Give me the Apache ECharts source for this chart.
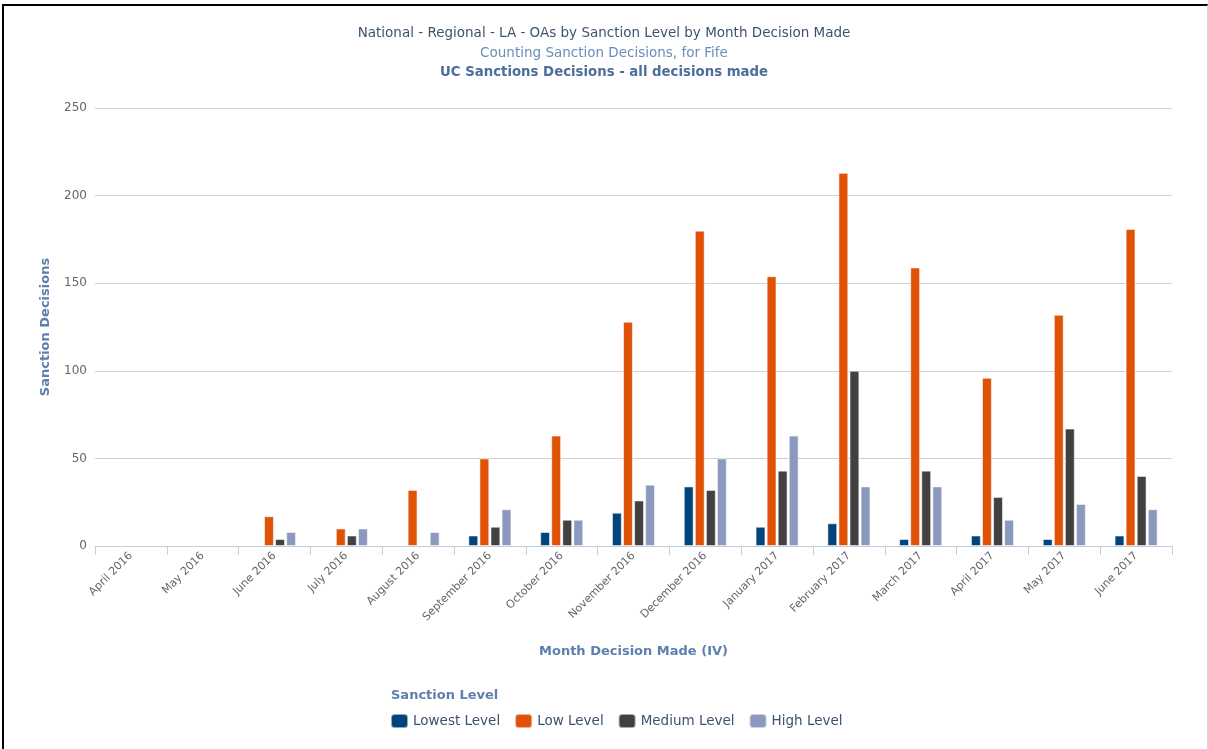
<!DOCTYPE html>
<html>
<head>
<meta charset="utf-8">
<title>Sanction Decisions by Month</title>
<script src="https://cdn.jsdelivr.net/npm/echarts@6/dist/echarts.min.js"></script>
<style>
  html, body { margin: 0; padding: 0; background: #fff; }
  #chart { position: absolute; left: 0; top: 0; width: 1208px; height: 749px; }
  #frame {
    position: absolute; left: 2px; top: 4px; width: 1206px; height: 745px;
    box-sizing: border-box; border-top: 2px solid #000; border-left: 2px solid #000;
    border-right: 1px solid #d8d8d8; pointer-events: none;
  }
</style>
</head>
<body>
<div id="chart"></div>
<div id="frame"></div>
<script>
// Months in which decisions were made
const months = [
  'April 2016', 'May 2016', 'June 2016', 'July 2016', 'August 2016',
  'September 2016', 'October 2016', 'November 2016', 'December 2016',
  'January 2017', 'February 2017', 'March 2017', 'April 2017', 'May 2017', 'June 2017'
];

// Sanction decisions per level (null where no decisions recorded)
const lowestLevel = [null, null, null, null, null, 6, 8, 19, 34, 11, 13, 4, 6, 4, 6];
const lowLevel    = [null, null, 17, 10, 32, 50, 63, 128, 180, 154, 213, 159, 96, 132, 181];
const mediumLevel = [null, null, 4, 6, null, 11, 15, 26, 32, 43, 100, 43, 28, 67, 40];
const highLevel   = [null, null, 8, 10, 8, 21, 15, 35, 50, 63, 34, 34, 15, 24, 21];

const yTicks = [0, 50, 100, 150, 200, 250];

const FONT = 'DejaVu Sans';
const chart = echarts.init(document.getElementById('chart'), null, { renderer: 'canvas' });

function barSeries(name, data, color) {
  return {
    name: name,
    type: 'bar',
    data: data,
    barGap: '12%',
    barCategoryGap: '40%',
    itemStyle: { color: color, borderColor: 'rgba(255,255,255,0.55)', borderWidth: 1 },
    emphasis: { disabled: true }
  };
}

chart.setOption({
  animation: false,
  textStyle: { fontFamily: FONT },
  title: [
    {
      text: 'National - Regional - LA - OAs by Sanction Level by Month Decision Made',
      left: 'center', top: 21,
      textStyle: { fontFamily: FONT, fontSize: 13.5, fontWeight: 'normal', color: '#3e5270' }
    },
    {
      text: 'Counting Sanction Decisions, for Fife',
      left: 'center', top: 41,
      textStyle: { fontFamily: FONT, fontSize: 13.5, fontWeight: 'normal', color: '#6b8cba' }
    },
    {
      text: 'UC Sanctions Decisions - all decisions made',
      left: 'center', top: 61,
      textStyle: { fontFamily: FONT, fontSize: 13.3, fontWeight: 'bold', color: '#4d6d9a' }
    },
    {
      text: 'Sanction Level',
      left: 386, top: 684,
      textStyle: { fontFamily: FONT, fontSize: 13, fontWeight: 'bold', color: '#5d7fae' }
    }
  ],
  legend: {
    left: 385, top: 708,
    itemWidth: 17, itemHeight: 14, itemGap: 14,
    icon: 'roundRect',
    textStyle: { fontFamily: FONT, fontSize: 13.5, color: '#3e5270' },
    data: ['Lowest Level', 'Low Level', 'Medium Level', 'High Level']
  },
  grid: { left: 95, right: 36, top: 108, bottom: 203, containLabel: false },
  xAxis: {
    type: 'category',
    data: months,
    name: 'Month Decision Made (IV)',
    nameLocation: 'middle',
    nameGap: 99,
    nameTextStyle: { fontFamily: FONT, fontSize: 13, fontWeight: 'bold', color: '#5d7fae' },
    axisLine: { lineStyle: { color: '#c0d0e0', width: 1 } },
    axisTick: { show: true, alignWithLabel: false, length: 9, lineStyle: { color: '#c0d0e0' } },
    axisLabel: { rotate: 45, margin: 8, fontFamily: FONT, fontSize: 11, color: '#666' }
  },
  yAxis: {
    type: 'value',
    min: yTicks[0], max: yTicks[yTicks.length - 1], interval: 50,
    name: 'Sanction Decisions',
    nameLocation: 'middle',
    nameGap: 43,
    nameTextStyle: { fontFamily: FONT, fontSize: 13, fontWeight: 'bold', color: '#5d7fae' },
    axisLine: { show: false },
    axisTick: { show: false },
    axisLabel: { margin: 8, fontFamily: FONT, fontSize: 12, color: '#666' },
    splitLine: { lineStyle: { color: '#d0d0d0', width: 1 } }
  },
  series: [
    barSeries('Lowest Level', lowestLevel, '#00447c'),
    barSeries('Low Level', lowLevel, '#e05206'),
    barSeries('Medium Level', mediumLevel, '#414141'),
    barSeries('High Level', highLevel, '#8c99bf')
  ]
});
</script>
</body>
</html>
